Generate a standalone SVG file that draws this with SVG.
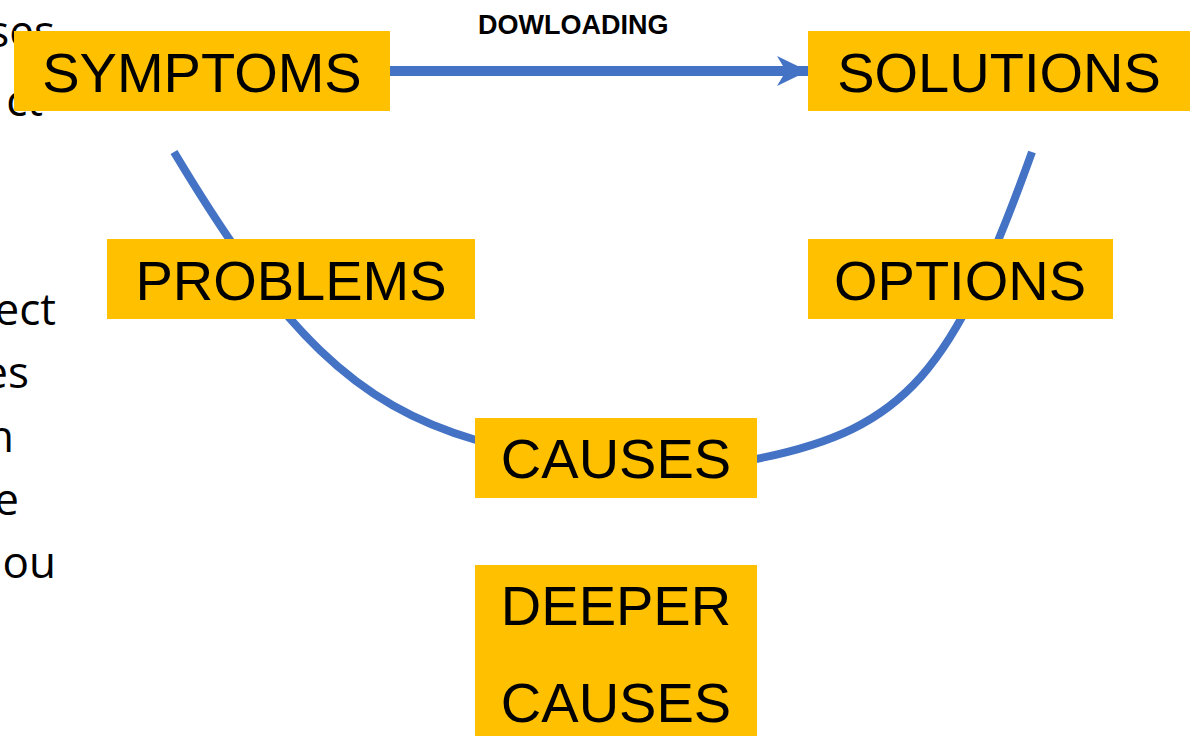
<svg xmlns="http://www.w3.org/2000/svg" width="1198" height="736" viewBox="0 0 1198 736">
  <style>
    .bg { fill: #ffffff; }
    .side { font-family: "Open Sans", "Noto Sans", sans-serif; font-size: 44px; fill: #000000; text-anchor: end; }
    .box { fill: #FFC000; }
    .label { font-family: "Liberation Sans", Arial, sans-serif; font-size: 56px; fill: #000000; text-anchor: middle; }
    .edge-label { font-family: "Liberation Sans", Arial, sans-serif; font-size: 27px; font-weight: bold; fill: #000000; }
    .flow { fill: none; stroke: #4472C4; stroke-width: 8; }
    .link { fill: none; stroke: #4472C4; stroke-width: 10; }
  </style>
  <defs>
    <marker id="arrowhead" markerUnits="userSpaceOnUse" markerWidth="32" markerHeight="32" refX="31" refY="16" orient="auto">
      <path d="M0,1 L31,16 L0,31 L9,16 Z" fill="#4472C4"/>
    </marker>
  </defs>

  <rect class="bg" x="0" y="0" width="1198" height="736"/>

  <!-- body text running off the left edge, partly under the boxes -->
  <g id="side-text">
    <text class="side" x="55" y="47">ses</text>
    <text class="side" x="43" y="116">ct</text>
    <text class="side" x="56" y="325">ect</text>
    <text class="side" x="29" y="388">es</text>
    <text class="side" x="14" y="452">n</text>
    <text class="side" x="19" y="515">e</text>
    <text class="side" x="56" y="578">ou</text>
  </g>

  <!-- connectors -->
  <g id="connectors">
    <path class="flow" d="M174,152 C282,332 355,405 476,440"/>
    <path class="flow" d="M756,459 C907,429 953,372 1032,152"/>
    <line class="link" x1="390" y1="71" x2="808" y2="71" marker-end="url(#arrowhead)"/>
    <text class="edge-label" x="478" y="34">DOWLOADING</text>
  </g>

  <g id="symptoms">
    <rect class="box" x="14" y="31" width="376" height="80"/>
    <text class="label" x="202" y="92">SYMPTOMS</text>
  </g>

  <g id="solutions">
    <rect class="box" x="808" y="31" width="382" height="80"/>
    <text class="label" x="999" y="92">SOLUTIONS</text>
  </g>

  <g id="problems">
    <rect class="box" x="107" y="239" width="368" height="80"/>
    <text class="label" x="291" y="300">PROBLEMS</text>
  </g>

  <g id="options">
    <rect class="box" x="808" y="239" width="305" height="80"/>
    <text class="label" x="960" y="300">OPTIONS</text>
  </g>

  <g id="causes">
    <rect class="box" x="475" y="418" width="282" height="80"/>
    <text class="label" x="616" y="478">CAUSES</text>
  </g>

  <g id="deeper-causes">
    <rect class="box" x="475" y="565" width="282" height="171"/>
    <text class="label" x="616" y="625">DEEPER</text>
    <text class="label" x="616" y="722">CAUSES</text>
  </g>
</svg>
